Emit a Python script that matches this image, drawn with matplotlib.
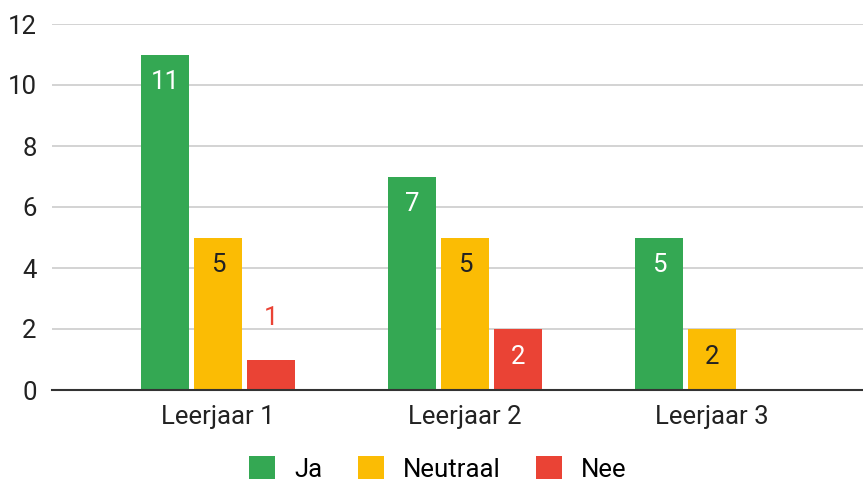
import numpy as np
import matplotlib
matplotlib.use("Agg")
import matplotlib.pyplot as plt
from matplotlib.patches import Patch

plt.rcParams['font.family'] = ['Roboto', 'DejaVu Sans']

categories = ["Leerjaar 1", "Leerjaar 2", "Leerjaar 3"]
series_names = ["Ja", "Neutraal", "Nee"]
ja = [11, 7, 5]
neutraal = [5, 5, 2]
nee = [1, 2, 0]
colors = ['#34a853', '#fbbc04', '#ea4335']
label_colors = ['white', '#222222', 'white']

fs = 18.5

fig = plt.figure(figsize=(8.63, 4.84), dpi=100)
ax = fig.add_axes([52 / 863, 94 / 484, 1 - 52 / 863, 366 / 484])

x = np.arange(len(categories))
width = 0.194
offset = 0.215

for i, (vals, col, lcol) in enumerate(zip([ja, neutraal, nee], colors, label_colors)):
    xs = x + (i - 1) * offset
    ax.bar(xs, vals, width=width, color=col, zorder=3)
    for xi, v in zip(xs, vals):
        if v == 0:
            continue
        if v >= 2:
            ax.annotate(str(v), (xi, v), xytext=(0, -20), textcoords='offset points',
                        ha='center', va='center', color=lcol, fontsize=fs, zorder=4)
        else:
            ax.annotate(str(v), (xi, v), xytext=(0, 30), textcoords='offset points',
                        ha='center', va='center', color=col, fontsize=fs, zorder=4)

ax.set_xlim(-0.672, 2.611)
ax.set_ylim(0, 12)
ax.set_yticks(range(0, 13, 2))
ax.set_xticks(x)
ax.set_xticklabels(categories)
ax.tick_params(axis='both', length=0, labelsize=fs, colors='#222222')
ax.tick_params(axis='y', pad=11)
ax.tick_params(axis='x', pad=11)
ax.grid(axis='y', color='#cccccc', linewidth=1.2, zorder=0)
for s in ['top', 'right', 'left']:
    ax.spines[s].set_visible(False)
ax.spines['bottom'].set_color('#333333')
ax.spines['bottom'].set_linewidth(1.5)
ax.spines['bottom'].set_zorder(5)

handles = [Patch(facecolor=c, edgecolor='none') for c in colors]
fig.legend(handles, series_names, loc='center', bbox_to_anchor=(438 / 863, 1 - 469 / 484),
           ncol=3, frameon=False, fontsize=fs, handlelength=1.0, handleheight=1.0,
           handletextpad=0.74, columnspacing=1.4)

fig.savefig("out.png", dpi=100)
